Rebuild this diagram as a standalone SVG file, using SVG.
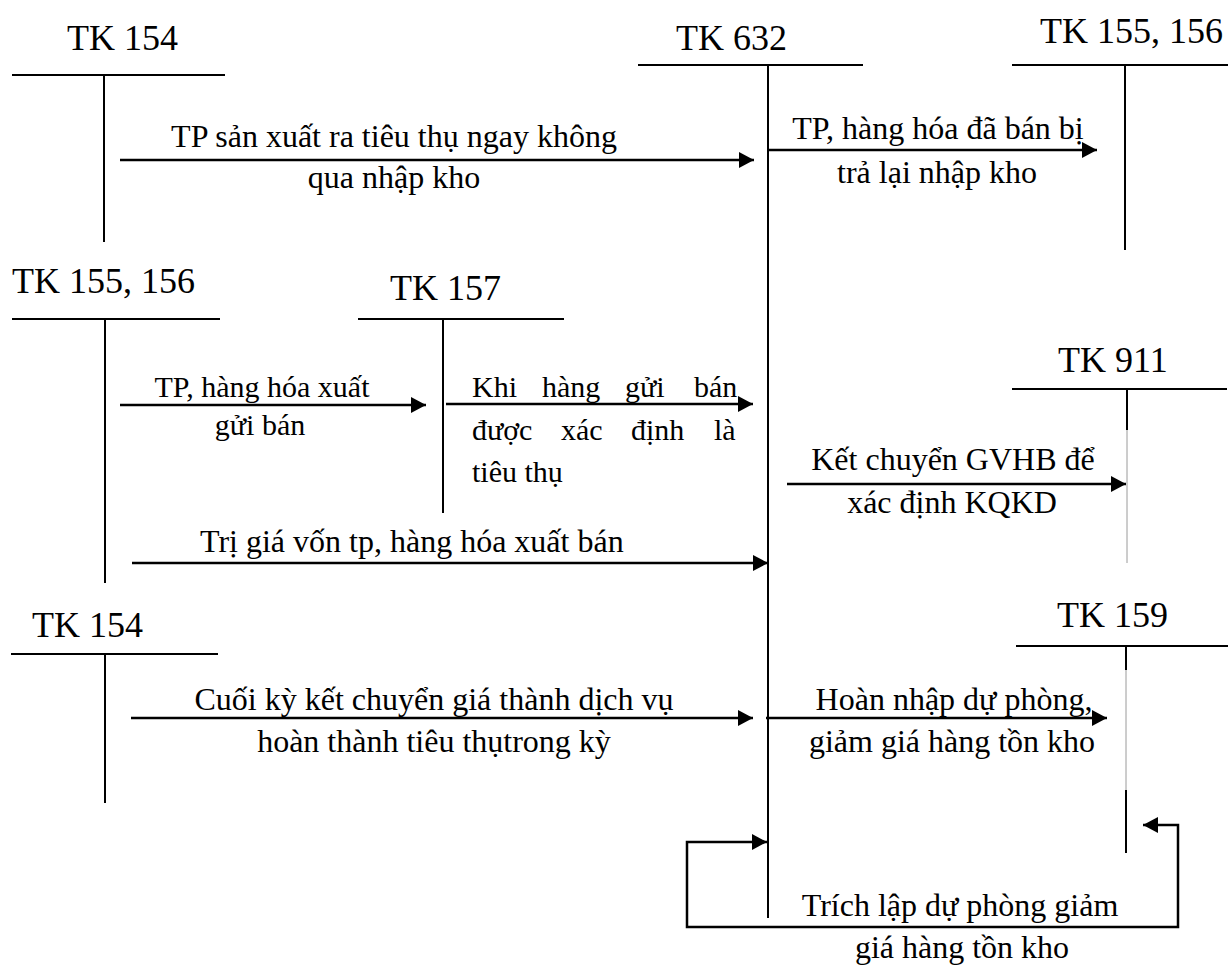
<svg xmlns="http://www.w3.org/2000/svg" width="1228" height="965" viewBox="0 0 1228 965">
<style>
.ln{stroke:#000;stroke-width:2;fill:none}
.gr{stroke:#9a9a9a;stroke-width:1;fill:none}
.ar{stroke:#000;stroke-width:2.5;fill:none;marker-end:url(#ah)}
.tt{font-family:"Liberation Serif","Times New Roman",serif;font-size:36px;fill:#000}
.lb{font-family:"Liberation Serif","Times New Roman",serif;font-size:32px;fill:#000}
.ls{font-family:"Liberation Serif","Times New Roman",serif;font-size:30px;fill:#000}
.c{text-anchor:middle}
</style>
<defs>
<marker id="ah" viewBox="0 0 15 16" refX="15" refY="8" markerWidth="15" markerHeight="16" markerUnits="userSpaceOnUse" orient="auto-start-reverse">
<path d="M0,0 L15,8 L0,16 Z" fill="#000"/>
</marker>
</defs>
<rect width="1228" height="965" fill="#fff"/>

<g id="tk154a">
<text class="tt" x="67" y="50">TK 154</text>
<line class="ln" x1="12" y1="75" x2="225" y2="75"/>
<line class="ln" x1="104" y1="75" x2="104" y2="242"/>
</g>
<g id="tk632">
<text class="tt" x="676" y="50">TK 632</text>
<line class="ln" x1="638" y1="65" x2="863" y2="65"/>
<line class="ln" x1="768" y1="65" x2="768" y2="918"/>
</g>
<g id="tk155b">
<text class="tt" x="1040" y="43">TK 155, 156</text>
<line class="ln" x1="1012" y1="65" x2="1228" y2="65"/>
<line class="ln" x1="1125" y1="65" x2="1125" y2="250"/>
</g>
<g id="tk155a">
<text class="tt" x="12" y="293">TK 155, 156</text>
<line class="ln" x1="12" y1="319" x2="220" y2="319"/>
<line class="ln" x1="105" y1="319" x2="105" y2="583"/>
</g>
<g id="tk157">
<text class="tt" x="390" y="300">TK 157</text>
<line class="ln" x1="358" y1="319" x2="564" y2="319"/>
<line class="ln" x1="443" y1="319" x2="443" y2="513"/>
</g>
<g id="tk911">
<text class="tt" x="1058" y="372">TK 911</text>
<line class="ln" x1="1012" y1="389" x2="1227" y2="389"/>
<line class="ln" x1="1127" y1="389" x2="1127" y2="430"/>
<line class="gr" x1="1127" y1="430" x2="1127" y2="563"/>
</g>
<g id="tk154b">
<text class="tt" x="32" y="637">TK 154</text>
<line class="ln" x1="11" y1="654" x2="218" y2="654"/>
<line class="ln" x1="105" y1="654" x2="105" y2="803"/>
</g>
<g id="tk159">
<text class="tt" x="1057" y="627">TK 159</text>
<line class="ln" x1="1016" y1="646" x2="1228" y2="646"/>
<line class="ln" x1="1126" y1="646" x2="1126" y2="670"/>
<line class="gr" x1="1126" y1="670" x2="1126" y2="790"/>
<line class="ln" x1="1126" y1="790" x2="1126" y2="853"/>
</g>

<g id="connectors">
<line class="ar" x1="120" y1="160" x2="754" y2="160"/>
<line class="ar" x1="768" y1="150" x2="1097" y2="150"/>
<line class="ar" x1="120" y1="405" x2="426" y2="405"/>
<line class="ar" x1="446" y1="404" x2="753" y2="404"/>
<line class="ar" x1="787" y1="484" x2="1126" y2="484"/>
<line class="ar" x1="132" y1="563" x2="768" y2="563"/>
<line class="ar" x1="131" y1="718" x2="753" y2="718"/>
<line class="ar" x1="766" y1="718" x2="1107" y2="718"/>
<path d="M767,842 L687,842 L687,927 L1178,927 L1178,825 L1143,825" stroke="#000" stroke-width="2.5" fill="none" marker-start="url(#ah)" marker-end="url(#ah)"/>
</g>

<g id="labels">
<text class="lb c" x="394" y="147">TP sản xuất ra tiêu thụ ngay không</text>
<text class="lb c" x="394" y="188">qua nhập kho</text>
<text class="lb c" x="938" y="139">TP, hàng hóa đã bán bị</text>
<text class="lb c" x="937" y="183">trả lại nhập kho</text>
<text class="ls c" x="262" y="397">TP, hàng hóa xuất</text>
<text class="ls c" x="260" y="435">gửi bán</text>
<text class="ls" y="397"><tspan x="472">Khi</tspan><tspan x="542">hàng</tspan><tspan x="625">gửi</tspan><tspan x="694">bán</tspan></text>
<text class="ls" y="440"><tspan x="472">được</tspan><tspan x="561">xác</tspan><tspan x="631">định</tspan><tspan x="714">là</tspan></text>
<text class="ls" x="472" y="482">tiêu thụ</text>
<text class="lb" x="200" y="552">Trị giá vốn tp, hàng hóa xuất bán</text>
<text class="lb c" x="953" y="470">Kết chuyển GVHB để</text>
<text class="lb c" x="952" y="513">xác định KQKD</text>
<text class="lb c" x="434" y="710">Cuối kỳ kết chuyển giá thành dịch vụ</text>
<text class="lb c" x="434" y="752">hoàn thành tiêu thụtrong kỳ</text>
<text class="lb c" x="954" y="710">Hoàn nhập dự phòng,</text>
<text class="lb c" x="952" y="752">giảm giá hàng tồn kho</text>
<text class="lb c" x="960" y="916">Trích lập dự phòng giảm</text>
<text class="lb c" x="962" y="958">giá hàng tồn kho</text>
</g>
</svg>
